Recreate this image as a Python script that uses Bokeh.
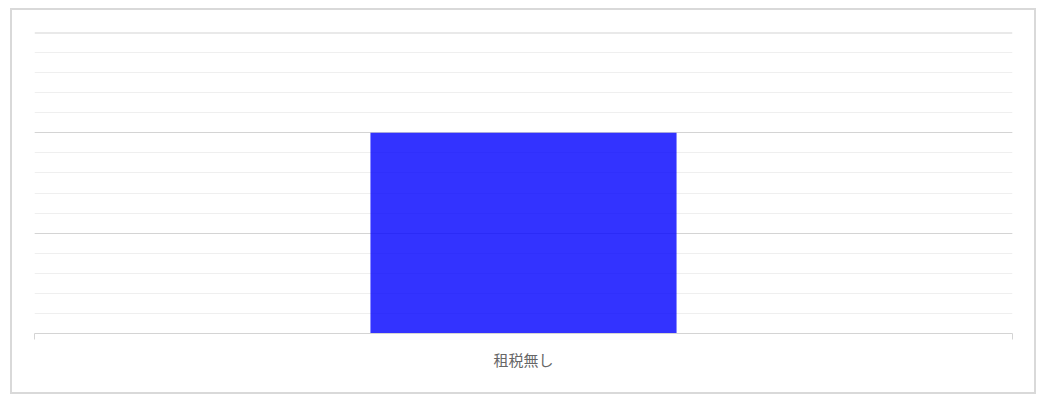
from bokeh.plotting import figure
from bokeh.models import (Range1d, LinearAxis, FixedTicker, Grid, ColumnDataSource,
                          CustomLabelingPolicy, Span)
from bokeh.embed import file_html
from bokeh.resources import INLINE

categories = ["租税無し"]
values = [2]
y_major_ticks = [0, 1, 2, 3]
y_minor_step = 0.2

y_minor_ticks = [round(i * y_minor_step, 3) for i in range(int(y_major_ticks[-1] / y_minor_step) + 1)]
x_centers = [i + 0.5 for i in range(len(categories))]
x_edges = [float(i) for i in range(len(categories) + 1)]

p = figure(width=1026, height=386, output_backend="svg", toolbar_location=None,
           x_range=Range1d(0, len(categories)),
           y_range=Range1d(y_major_ticks[0], y_major_ticks[-1]),
           x_axis_location=None, y_axis_location=None,
           min_border_left=22, min_border_right=26, min_border_top=22,
           min_border_bottom=63)
p.styles = {"border": "2px solid #d9d9d9", "margin": "8px 0 0 10px"}
p.outline_line_color = None
p.background_fill_color = "white"
p.border_fill_color = "white"

p.center = [r for r in p.center if not isinstance(r, Grid)]
grid = Grid(dimension=1, ticker=FixedTicker(ticks=y_major_ticks, minor_ticks=y_minor_ticks),
            grid_line_color="#d4d4d4", grid_line_width=1,
            minor_grid_line_color="#efefef", minor_grid_line_width=1)
p.add_layout(grid)
p.add_layout(Span(location=y_major_ticks[-1], dimension="width",
                  line_color="#d4d4d4", line_width=2, level="underlay"))

src = ColumnDataSource(dict(x=x_centers, val=values))
p.vbar(x="x", top="val", bottom=0, width=0.313, source=src,
       fill_color="blue", fill_alpha=0.8, line_color=None)

tick_axis = LinearAxis(ticker=FixedTicker(ticks=x_edges, minor_ticks=[]),
                       axis_line_color="#d4d4d4", axis_line_width=1,
                       major_tick_line_color="#d4d4d4", major_tick_out=6, major_tick_in=0,
                       minor_tick_out=0, minor_tick_in=0,
                       major_label_policy=CustomLabelingPolicy(code="return new Set()"),
                       major_label_text_font_size="1px",
                       major_label_standoff=0)
p.add_layout(tick_axis, "below")

label_axis = LinearAxis(ticker=FixedTicker(ticks=x_centers, minor_ticks=[]),
                        major_label_overrides={c: n for c, n in zip(x_centers, categories)},
                        axis_line_color=None, major_tick_line_color=None,
                        minor_tick_line_color=None, major_tick_out=0, major_tick_in=0,
                        major_label_text_font="Noto Sans CJK JP",
                        major_label_text_font_size="15px",
                        major_label_text_color="#666666",
                        major_label_standoff=5)
p.add_layout(label_axis, "below")

open("out.html", "w").write(file_html(p, INLINE))
